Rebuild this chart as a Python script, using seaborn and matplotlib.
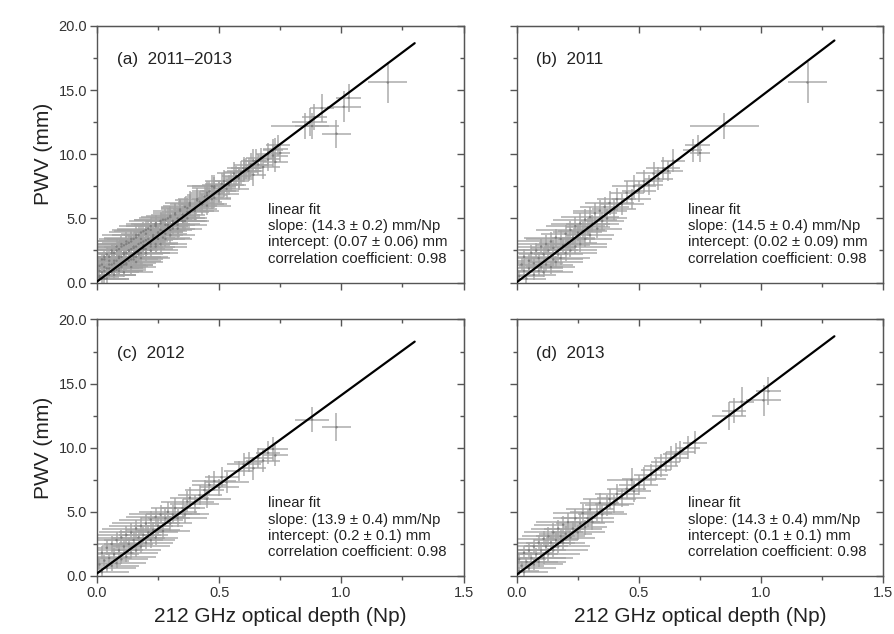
import numpy as np
import pandas as pd
import seaborn as sns
import matplotlib.pyplot as plt
from matplotlib.ticker import MultipleLocator, FormatStrFormatter

# dados (tau 212 GHz em Np, PWV em mm)
tau_2011 = [0.01, 0.02, 0.03, 0.03, 0.04, 0.05, 0.05, 0.06, 0.07, 0.07,
            0.08, 0.09, 0.09, 0.10, 0.10, 0.11, 0.11, 0.12, 0.12, 0.13,
            0.14, 0.14, 0.15, 0.15, 0.16, 0.16, 0.17, 0.18, 0.18, 0.19,
            0.20, 0.20, 0.21, 0.22, 0.22, 0.23, 0.24, 0.24, 0.25, 0.26,
            0.26, 0.27, 0.28, 0.28, 0.29, 0.30, 0.30, 0.31, 0.32, 0.33,
            0.34, 0.35, 0.36, 0.37, 0.38, 0.40, 0.41, 0.43, 0.45, 0.47,
            0.48, 0.50, 0.52, 0.54, 0.56, 0.58, 0.60, 0.62, 0.64, 0.72,
            0.74, 0.75, 0.85, 1.19]
pwv_2011 = [0.5, 1.4, 0.9, 2.0, 0.3, 1.7, 1.1, 2.3, 0.6, 1.5,
            2.5, 0.9, 1.9, 2.8, 1.2, 0.8, 2.2, 3.0, 1.4, 2.5,
            1.2, 3.2, 1.8, 2.7, 3.5, 1.6, 2.2, 3.4, 1.9, 2.9,
            2.3, 3.8, 3.1, 4.1, 2.5, 3.5, 2.8, 4.4, 3.9, 3.0,
            4.6, 4.0, 4.9, 3.4, 4.3, 5.1, 3.7, 4.6, 5.4, 4.2,
            5.6, 4.8, 5.9, 5.0, 6.2, 5.7, 6.5, 6.1, 7.0, 6.5,
            7.5, 7.1, 7.9, 7.6, 8.5, 8.1, 8.9, 8.7, 9.5, 10.3,
            10.7, 10.1, 12.2, 15.6]
tau_err_2011 = [0.10, 0.12, 0.09, 0.13, 0.08, 0.11, 0.14, 0.10, 0.09, 0.12,
                0.13, 0.10, 0.11, 0.14, 0.09, 0.12, 0.10, 0.13, 0.11, 0.12,
                0.10, 0.14, 0.12, 0.09, 0.13, 0.11, 0.10, 0.14, 0.12, 0.11,
                0.13, 0.10, 0.12, 0.14, 0.11, 0.09, 0.13, 0.12, 0.10, 0.11,
                0.12, 0.10, 0.13, 0.11, 0.09, 0.12, 0.10, 0.11, 0.09, 0.10,
                0.11, 0.09, 0.10, 0.08, 0.10, 0.09, 0.08, 0.09, 0.07, 0.08,
                0.09, 0.07, 0.08, 0.06, 0.07, 0.06, 0.07, 0.06, 0.05, 0.04,
                0.05, 0.04, 0.14, 0.08]
pwv_err_2011 = [0.4, 0.5, 0.4, 0.6, 0.3, 0.5, 0.4, 0.6, 0.4, 0.5,
                0.6, 0.4, 0.5, 0.6, 0.4, 0.4, 0.5, 0.7, 0.5, 0.6,
                0.5, 0.7, 0.5, 0.6, 0.7, 0.5, 0.6, 0.7, 0.5, 0.6,
                0.6, 0.7, 0.6, 0.7, 0.5, 0.6, 0.6, 0.7, 0.7, 0.6,
                0.8, 0.7, 0.8, 0.6, 0.7, 0.8, 0.6, 0.7, 0.8, 0.7,
                0.8, 0.7, 0.8, 0.7, 0.9, 0.8, 0.9, 0.8, 0.9, 0.8,
                0.9, 0.8, 0.9, 0.8, 0.9, 0.9, 0.9, 0.8, 0.9, 0.9,
                0.8, 0.7, 1.0, 1.6]

tau_2012 = [0.01, 0.02, 0.02, 0.03, 0.04, 0.04, 0.05, 0.06, 0.06, 0.07,
            0.08, 0.08, 0.09, 0.10, 0.10, 0.11, 0.12, 0.12, 0.13, 0.14,
            0.14, 0.15, 0.16, 0.16, 0.17, 0.18, 0.18, 0.19, 0.20, 0.20,
            0.21, 0.22, 0.22, 0.23, 0.24, 0.24, 0.25, 0.26, 0.27, 0.28,
            0.29, 0.30, 0.31, 0.32, 0.33, 0.35, 0.36, 0.37, 0.38, 0.40,
            0.42, 0.44, 0.45, 0.46, 0.48, 0.50, 0.51, 0.53, 0.58, 0.60,
            0.62, 0.64, 0.66, 0.68, 0.70, 0.72, 0.73, 0.88, 0.98]
pwv_2012 = [0.9, 0.3, 1.8, 1.2, 0.6, 2.2, 1.4, 0.8, 2.5, 1.7,
            1.0, 2.8, 2.0, 1.3, 3.0, 2.3, 1.5, 3.2, 2.5, 1.8,
            3.4, 2.8, 2.0, 3.7, 3.0, 2.3, 3.9, 3.2, 2.6, 4.1,
            3.4, 2.8, 4.4, 3.6, 3.0, 4.6, 3.9, 4.8, 3.5, 4.5,
            5.0, 4.1, 4.8, 5.3, 4.5, 5.3, 4.8, 5.8, 6.1, 5.6,
            6.3, 6.7, 6.0, 7.1, 7.4, 6.9, 7.7, 7.3, 8.2, 8.7,
            8.9, 8.4, 9.2, 9.0, 9.6, 9.9, 9.4, 12.2, 11.6]
tau_err_2012 = [0.09, 0.11, 0.13, 0.10, 0.12, 0.14, 0.09, 0.11, 0.13, 0.10,
                0.12, 0.14, 0.10, 0.11, 0.13, 0.09, 0.12, 0.14, 0.10, 0.11,
                0.13, 0.12, 0.10, 0.14, 0.11, 0.12, 0.13, 0.10, 0.11, 0.14,
                0.12, 0.10, 0.13, 0.11, 0.09, 0.12, 0.10, 0.13, 0.11, 0.10,
                0.12, 0.09, 0.11, 0.10, 0.12, 0.09, 0.10, 0.11, 0.08, 0.10,
                0.09, 0.08, 0.10, 0.07, 0.09, 0.08, 0.07, 0.09, 0.06, 0.07,
                0.06, 0.05, 0.06, 0.07, 0.05, 0.06, 0.05, 0.07, 0.06]
pwv_err_2012 = [0.4, 0.3, 0.5, 0.4, 0.3, 0.6, 0.4, 0.4, 0.6, 0.5,
                0.4, 0.6, 0.5, 0.4, 0.6, 0.5, 0.4, 0.7, 0.5, 0.5,
                0.7, 0.6, 0.5, 0.7, 0.6, 0.5, 0.7, 0.6, 0.5, 0.7,
                0.6, 0.6, 0.7, 0.6, 0.6, 0.7, 0.6, 0.7, 0.6, 0.7,
                0.8, 0.6, 0.7, 0.8, 0.7, 0.7, 0.7, 0.8, 0.8, 0.7,
                0.8, 0.8, 0.7, 0.8, 0.8, 0.7, 0.8, 0.8, 0.8, 0.9,
                0.8, 0.9, 0.8, 0.9, 0.9, 0.9, 0.8, 1.0, 1.1]

tau_2013 = [0.01, 0.01, 0.02, 0.03, 0.03, 0.04, 0.05, 0.05, 0.06, 0.07,
            0.07, 0.08, 0.09, 0.09, 0.10, 0.11, 0.11, 0.12, 0.13, 0.13,
            0.14, 0.15, 0.15, 0.16, 0.17, 0.17, 0.18, 0.19, 0.19, 0.20,
            0.21, 0.22, 0.23, 0.24, 0.25, 0.26, 0.27, 0.28, 0.29, 0.30,
            0.31, 0.33, 0.34, 0.35, 0.37, 0.38, 0.40, 0.41, 0.43, 0.45,
            0.47, 0.48, 0.50, 0.52, 0.55, 0.57, 0.59, 0.61, 0.63, 0.65,
            0.67, 0.70, 0.73, 0.87, 0.89, 0.92, 1.01, 1.03]
pwv_2013 = [0.4, 1.3, 0.8, 1.8, 0.3, 1.1, 2.0, 0.6, 1.4, 2.3,
            0.9, 1.7, 2.6, 1.1, 2.0, 2.9, 1.4, 2.3, 3.1, 1.7,
            2.6, 3.4, 2.0, 2.8, 3.7, 2.3, 3.1, 4.0, 2.6, 3.3,
            4.2, 3.0, 3.7, 4.5, 3.4, 4.1, 4.9, 3.8, 4.5, 5.2,
            4.2, 5.0, 5.7, 4.8, 5.5, 6.0, 5.6, 6.4, 6.1, 6.8,
            7.5, 6.6, 7.1, 7.6, 7.9, 8.3, 8.6, 8.9, 9.2, 9.5,
            9.7, 10.0, 10.4, 12.5, 12.9, 13.6, 13.7, 14.4]
tau_err_2013 = [0.08, 0.11, 0.09, 0.12, 0.10, 0.13, 0.09, 0.11, 0.14, 0.10,
                0.12, 0.09, 0.13, 0.11, 0.10, 0.14, 0.12, 0.09, 0.11, 0.13,
                0.10, 0.12, 0.14, 0.09, 0.11, 0.13, 0.10, 0.12, 0.09, 0.11,
                0.13, 0.10, 0.12, 0.09, 0.11, 0.10, 0.12, 0.09, 0.11, 0.10,
                0.09, 0.11, 0.08, 0.10, 0.09, 0.11, 0.08, 0.09, 0.10, 0.08,
                0.10, 0.07, 0.08, 0.09, 0.07, 0.06, 0.07, 0.06, 0.07, 0.05,
                0.06, 0.05, 0.05, 0.07, 0.05, 0.05, 0.07, 0.05]
pwv_err_2013 = [0.3, 0.4, 0.4, 0.5, 0.3, 0.4, 0.6, 0.3, 0.5, 0.6,
                0.4, 0.5, 0.6, 0.4, 0.5, 0.6, 0.5, 0.5, 0.7, 0.5,
                0.6, 0.7, 0.5, 0.6, 0.7, 0.5, 0.6, 0.7, 0.6, 0.6,
                0.7, 0.6, 0.6, 0.7, 0.6, 0.7, 0.7, 0.6, 0.7, 0.8,
                0.6, 0.7, 0.8, 0.7, 0.8, 0.8, 0.7, 0.8, 0.7, 0.8,
                0.9, 0.8, 0.8, 0.9, 0.8, 0.8, 0.9, 0.8, 0.9, 0.9,
                0.8, 0.9, 0.9, 1.1, 1.0, 1.1, 1.2, 1.1]

# parametros do ajuste linear (texto de cada painel)
panel_titles = ['(a)  2011\u20132013', '(b)  2011', '(c)  2012', '(d)  2013']
slopes = [14.3, 14.5, 13.9, 14.3]
intercepts = [0.07, 0.02, 0.2, 0.1]
fit_texts = ['slope: (14.3 \u00b1 0.2) mm/Np\nintercept: (0.07 \u00b1 0.06) mm',
             'slope: (14.5 \u00b1 0.4) mm/Np\nintercept: (0.02 \u00b1 0.09) mm',
             'slope: (13.9 \u00b1 0.4) mm/Np\nintercept: (0.2 \u00b1 0.1) mm',
             'slope: (14.3 \u00b1 0.4) mm/Np\nintercept: (0.1 \u00b1 0.1) mm']
fit_end = 1.3

# DataFrames por ano; o painel (a) junta os tres anos
def make_df(tau, pwv, tau_err, pwv_err):
    return pd.DataFrame({'tau': tau, 'pwv': pwv, 'tau_err': tau_err, 'pwv_err': pwv_err})

df11 = make_df(tau_2011, pwv_2011, tau_err_2011, pwv_err_2011)
df12 = make_df(tau_2012, pwv_2012, tau_err_2012, pwv_err_2012)
df13 = make_df(tau_2013, pwv_2013, tau_err_2013, pwv_err_2013)
df_all = pd.concat([df11, df12, df13], ignore_index=True)
frames = [df_all, df11, df12, df13]

sns.set_style('ticks')
plt.rcParams['font.family'] = ['Liberation Sans', 'DejaVu Sans']

fig, axes = plt.subplots(2, 2, figsize=(8.94, 6.34), dpi=100)
fig.subplots_adjust(left=0.1085, right=0.988, top=0.959, bottom=0.0915, wspace=0.145, hspace=0.144)

spine_col = '#555555'
for i, ax in enumerate(axes.flat):
    df = frames[i]
    ax.errorbar(df['tau'], df['pwv'], xerr=df['tau_err'], yerr=df['pwv_err'], fmt='none',
                ecolor='#a3a3a3', elinewidth=1.1, alpha=0.9, zorder=2)
    sns.scatterplot(data=df, x='tau', y='pwv', ax=ax, s=3, color='#808080', edgecolor='none',
                    zorder=3, legend=False)
    fit = pd.DataFrame({'tau': [0.0, fit_end]})
    fit['pwv'] = slopes[i] * fit['tau'] + intercepts[i]
    sns.lineplot(data=fit, x='tau', y='pwv', ax=ax, color='black', linewidth=1.6, zorder=4)

    ax.set_xlim(0, 1.5)
    ax.set_ylim(0, 20)
    ax.xaxis.set_major_locator(MultipleLocator(0.5))
    ax.xaxis.set_minor_locator(MultipleLocator(0.25))
    ax.yaxis.set_major_locator(MultipleLocator(5))
    ax.yaxis.set_minor_locator(MultipleLocator(2.5))
    ax.xaxis.set_major_formatter(FormatStrFormatter('%.1f'))
    ax.yaxis.set_major_formatter(FormatStrFormatter('%.1f'))
    ax.tick_params(which='major', direction='out', length=5, width=1, color=spine_col,
                   labelsize=10.5, labelcolor='#333333', pad=2)
    ax.tick_params(which='minor', direction='out', length=3, width=1, color=spine_col)
    for s in ax.spines.values():
        s.set_color(spine_col)
        s.set_linewidth(1.0)

    # ticks para dentro no topo e na direita
    top = ax.secondary_xaxis('top')
    top.xaxis.set_major_locator(MultipleLocator(0.5))
    top.xaxis.set_minor_locator(MultipleLocator(0.25))
    top.tick_params(which='major', direction='in', length=5, width=1, color=spine_col, labeltop=False)
    top.tick_params(which='minor', direction='in', length=3, width=1, color=spine_col)
    top.spines['top'].set_color(spine_col)
    right = ax.secondary_yaxis('right')
    right.yaxis.set_major_locator(MultipleLocator(5))
    right.yaxis.set_minor_locator(MultipleLocator(2.5))
    right.tick_params(which='major', direction='in', length=5, width=1, color=spine_col, labelright=False)
    right.tick_params(which='minor', direction='in', length=3, width=1, color=spine_col)
    right.spines['right'].set_color(spine_col)

    ax.text(0.08, 17.35, panel_titles[i], fontsize=12.3, color='#222222', va='center')
    ax.text(0.70, 6.2, 'linear fit\n' + fit_texts[i] + '\ncorrelation coefficient: 0.98',
            fontsize=10.7, color='#222222', va='top', linespacing=1.2)

    if i % 2 == 0:
        ax.set_ylabel('PWV (mm)', fontsize=15, color='#222222', labelpad=4)
    else:
        ax.set_ylabel('')
        ax.tick_params(labelleft=False)
    if i >= 2:
        ax.set_xlabel('212 GHz optical depth (Np)', fontsize=15, color='#222222', labelpad=5)
    else:
        ax.set_xlabel('')
        ax.tick_params(labelbottom=False)

plt.savefig('out.png', dpi=100)
